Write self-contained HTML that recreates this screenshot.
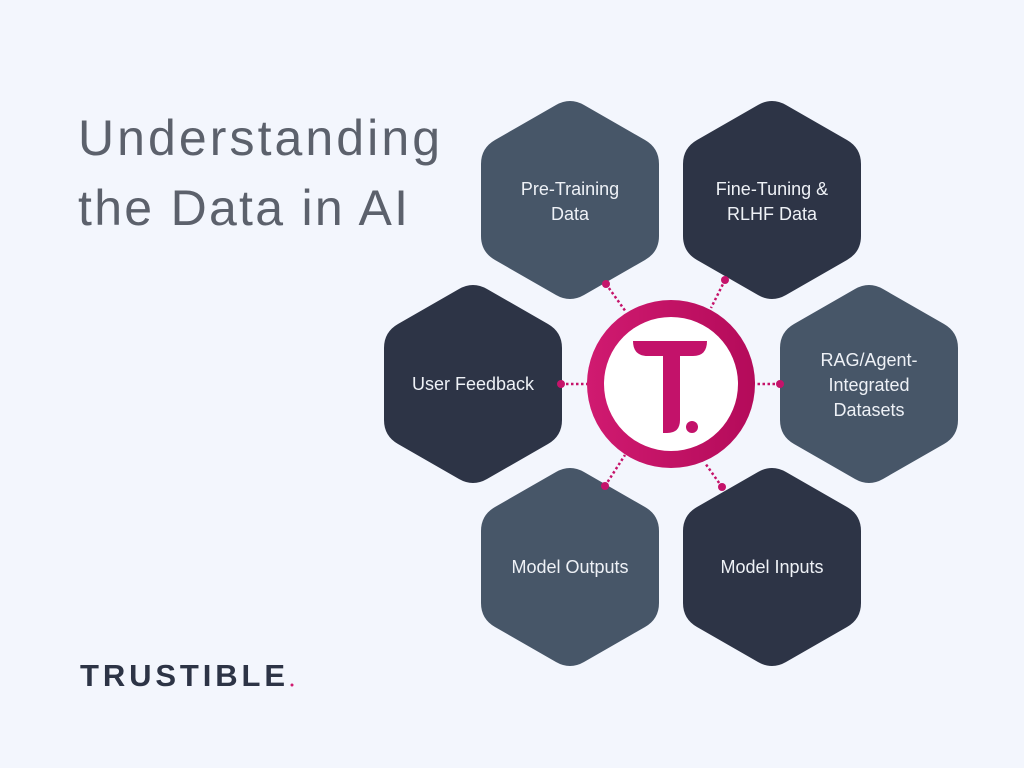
<!DOCTYPE html>
<html><head><meta charset="utf-8"><style>
body{margin:0;background:#f3f6fd;}
svg{display:block}
</style></head><body>
<svg width="1024" height="768" viewBox="0 0 1024 768" xmlns="http://www.w3.org/2000/svg">
<defs>
<linearGradient id="g" x1="0" x2="1" y1="0" y2="0"><stop offset="0" stop-color="#d01a70"/><stop offset="1" stop-color="#b40b5a"/></linearGradient>
<path id="hx" d="M-14,-95 Q0,-103 14,-95 L75,-60 Q89,-52 89,-36 L89,36 Q89,52 75,60 L14,95 Q0,103 -14,95 L-75,60 Q-89,52 -89,36 L-89,-36 Q-89,-52 -75,-60 Z"/>
</defs>
<rect width="1024" height="768" fill="#f3f6fd"/>
<text x="78" y="155" font-family="Liberation Sans, sans-serif" font-size="50" fill="#5c616c" textLength="362" lengthAdjust="spacing">Understanding</text>
<text x="78" y="225" font-family="Liberation Sans, sans-serif" font-size="50" fill="#5c616c" textLength="330" lengthAdjust="spacing">the Data in AI</text>

<use href="#hx" x="570" y="200" fill="#475668"/>
<use href="#hx" x="772" y="200" fill="#2d3446"/>
<use href="#hx" x="473" y="384" fill="#2d3446"/>
<use href="#hx" x="869" y="384" fill="#475668"/>
<use href="#hx" x="570" y="567" fill="#475668"/>
<use href="#hx" x="772" y="567" fill="#2d3446"/>

<g font-family="Liberation Sans, sans-serif" font-size="18" fill="#eef1f6" text-anchor="middle">
<text x="570" y="195">Pre-Training</text><text x="570" y="220">Data</text>
<text x="772" y="195">Fine-Tuning &amp;</text><text x="772" y="220">RLHF Data</text>
<text x="473" y="390">User Feedback</text>
<text x="869" y="366">RAG/Agent-</text><text x="869" y="391">Integrated</text><text x="869" y="416">Datasets</text>
<text x="570" y="573">Model Outputs</text>
<text x="772" y="573">Model Inputs</text>
</g>

<g stroke="#c5136a" stroke-width="2.5" stroke-dasharray="2.5 2.5">
<line x1="606" y1="284" x2="626" y2="312"/>
<line x1="725" y1="280" x2="711" y2="308"/>
<line x1="561" y1="384" x2="588" y2="384"/>
<line x1="780" y1="384" x2="755" y2="384"/>
<line x1="605" y1="486" x2="625" y2="455"/>
<line x1="722" y1="487" x2="705" y2="463"/>
</g>
<g fill="#c5136a">
<circle cx="606" cy="284" r="4"/><circle cx="725" cy="280" r="4"/>
<circle cx="561" cy="384" r="4"/><circle cx="780" cy="384" r="4"/>
<circle cx="605" cy="486" r="4"/><circle cx="722" cy="487" r="4"/>
</g>

<circle cx="671" cy="384" r="84" fill="url(#g)"/>
<circle cx="671" cy="384" r="67" fill="#ffffff"/>
<path d="M633,341 L707,341 Q707,356 693,356 L680,356 L680,420 Q680,433 667,433 L663,433 L663,356 L648,356 Q633,356 633,341 Z" fill="#c3126a"/>
<circle cx="692" cy="427" r="6" fill="#c3126a"/>

<text x="80" y="686" font-family="Liberation Sans, sans-serif" font-size="31" font-weight="bold" fill="#2d3446" textLength="205" lengthAdjust="spacing">TRUSTIBLE</text>
<circle cx="292" cy="685" r="1.5" fill="#d01a70"/>
</svg>
</body></html>
